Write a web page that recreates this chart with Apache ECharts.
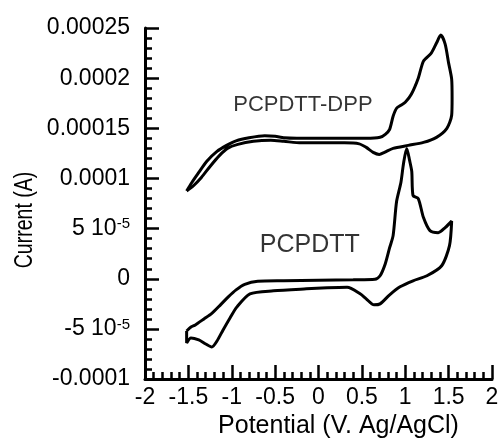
<!DOCTYPE html>
<html>
<head>
<meta charset="utf-8">
<script src="https://cdn.jsdelivr.net/npm/echarts@6/dist/echarts.min.js"></script>
<style>
  html, body { margin: 0; padding: 0; background: #fff; }
  #chart { width: 504px; height: 444px; }
</style>
</head>
<body>
<div id="chart"></div>
<script>
// Cyclic voltammograms, currents given in units of 1e-5 A
const CURRENT_UNIT = 1e-5;

// PCPDTT-DPP loop (anodic sweep then return)
const dppPotential = [
  -1.52, -1.46, -1.38, -1.29, -1.17, -1.06, -0.95, -0.80, -0.62, -0.50,
  -0.40, -0.25, 0.00, 0.30, 0.55, 0.71, 0.77, 0.82, 0.86, 0.90,
  0.95, 1.00, 1.07, 1.15, 1.21, 1.30, 1.36, 1.41, 1.46, 1.50,
  1.535, 1.54, 1.535, 1.48, 1.36, 1.21, 1.035, 0.86, 0.76, 0.70,
  0.63, 0.55, 0.47, 0.30, 0.00, -0.20, -0.40, -0.55, -0.75, -0.93,
  -1.05, -1.14, -1.25, -1.35, -1.45, -1.52
];
const dppCurrent = [
  8.76, 9.6, 10.6, 11.7, 12.7, 13.3, 13.75, 14.05, 14.25, 14.2,
  14.05, 14.0, 14.0, 14.0, 14.0, 14.1, 14.4, 14.9, 16.2, 17.0,
  17.3, 17.6, 18.4, 20.0, 21.7, 22.5, 23.5, 24.3, 23.4, 21.5,
  19.9, 18.0, 16.3, 15.0, 14.1, 13.6, 13.3, 13.0, 12.6, 12.4,
  12.6, 13.1, 13.45, 13.55, 13.55, 13.55, 13.7, 13.8, 13.7, 13.4,
  13.0, 12.3, 11.2, 10.1, 9.2, 8.76
];

// PCPDTT loop (anodic sweep then return)
const pcpPotential = [
  -1.52, -1.47, -1.42, -1.32, -1.23, -1.13, -1.04, -0.95, -0.85, -0.70,
  -0.40, 0.00, 0.40, 0.65, 0.71, 0.77, 0.82, 0.86, 0.90, 0.95,
  0.98, 1.017, 1.05, 1.075, 1.09, 1.15, 1.21, 1.285, 1.38, 1.46,
  1.535, 1.51, 1.42, 1.25, 1.09, 0.94, 0.82, 0.71, 0.64, 0.55,
  0.48, 0.33, 0.10, -0.14, -0.52, -0.79, -0.94, -1.02, -1.10, -1.17,
  -1.23, -1.30, -1.38, -1.47, -1.52, -1.52
];
const pcpCurrent = [
  -5.2, -4.8, -4.6, -4.0, -3.45, -2.6, -1.8, -1.1, -0.55, -0.25,
  -0.2, -0.15, -0.1, -0.05, 0.3, 1.5, 3.1, 4.3, 7.7, 9.6,
  11.5, 13.0, 11.8, 10.7, 8.3, 8.0, 6.1, 4.8, 4.6, 5.1,
  5.75, 3.3, 1.3, 0.3, -0.2, -0.8, -1.6, -2.5, -2.6, -2.0,
  -1.5, -0.85, -0.9, -1.0, -1.2, -1.5, -2.8, -3.9, -5.1, -6.2,
  -6.8, -6.5, -6.1, -5.9, -6.4, -5.2
];

// Curve names written next to each loop: [potential, current (1e-5 A)]
const curveNames = ['PCPDTT-DPP', 'PCPDTT'];
const curveNamePos = [[-0.18, 17.3], [-0.10, 3.4]];
const curveNameSize = [22, 25];

const yTickLabels = ['-0.0001', '-5 10{sup|-5}', '0', '5 10{sup|-5}', '0.0001', '0.00015', '0.0002', '0.00025'];
const xTickLabels = ['-2', '-1.5', '-1', '-0.5', '0', '0.5', '1', '1.5', '2'];
const yAxisTitle = 'Current (A)';
const xAxisTitle = 'Potential (V. Ag/AgCl)';

function pairs(xs, ys) {
  return xs.map((x, i) => [x, ys[i] * CURRENT_UNIT]);
}

const FONT = '"Liberation Sans", Arial, sans-serif';
const chart = echarts.init(document.getElementById('chart'), null, { renderer: 'canvas' });

const lineStyle = { color: '#000', width: 3 };

chart.setOption({
  animation: false,
  backgroundColor: '#fff',
  grid: { left: 145, right: 12, top: 28, bottom: 61, containLabel: false },
  // vertical axis title, drawn a little wider across its lines
  graphic: [{
    type: 'text',
    x: 25, y: 220,
    rotation: Math.PI / 2,
    scaleY: 1.3,
    style: {
      text: yAxisTitle, fontFamily: FONT, fontSize: 19.5, fill: '#000',
      align: 'center', verticalAlign: 'middle'
    }
  }],
  xAxis: {
    type: 'value',
    min: -2, max: 2, interval: 0.5,
    name: xAxisTitle,
    nameLocation: 'middle',
    nameGap: 20,
    nameTextStyle: { fontFamily: FONT, fontSize: 25, color: '#000', padding: [0, 0, 0, 40] },
    axisLine: { onZero: false, lineStyle: { color: '#000', width: 3 } },
    axisTick: { inside: true, length: 14, lineStyle: { color: '#000', width: 2.5 } },
    minorTick: { show: true, splitNumber: 5, length: 7, lineStyle: { color: '#000', width: 2.5 } },
    axisLabel: {
      margin: 7, fontFamily: FONT, fontSize: 23, color: '#000',
      showMinLabel: true, showMaxLabel: true,
      formatter: (v, i) => xTickLabels[i]
    },
    splitLine: { show: false }
  },
  yAxis: {
    type: 'value',
    min: -1e-4, max: 2.5e-4, interval: 5e-5,
    axisLine: { onZero: false, lineStyle: { color: '#000', width: 3 } },
    axisTick: { inside: true, length: 14, lineStyle: { color: '#000', width: 2.5 } },
    minorTick: { show: true, splitNumber: 5, length: 7, lineStyle: { color: '#000', width: 2.5 } },
    axisLabel: {
      margin: 15, fontFamily: FONT, fontSize: 23, color: '#000',
      showMinLabel: true, showMaxLabel: true,
      formatter: (v, i) => yTickLabels[i],
      rich: {
        sup: { fontFamily: FONT, fontSize: 15, color: '#000', verticalAlign: 'top', padding: [0, 0, 9, 0] }
      }
    },
    splitLine: { show: false }
  },
  series: [
    {
      name: 'PCPDTT-DPP', type: 'line', data: pairs(dppPotential, dppCurrent),
      showSymbol: false, smooth: 0.25, lineStyle: lineStyle, z: 3
    },
    {
      name: 'PCPDTT', type: 'line', data: pairs(pcpPotential, pcpCurrent),
      showSymbol: false, smooth: 0.25, lineStyle: lineStyle, z: 3
    },
    {
      type: 'scatter', symbolSize: 0, silent: true,
      data: curveNames.map((n, i) => ({
        name: n,
        value: [curveNamePos[i][0], curveNamePos[i][1] * CURRENT_UNIT],
        label: { fontSize: curveNameSize[i] }
      })),
      label: {
        show: true, position: 'inside', formatter: p => p.name,
        fontFamily: FONT, color: '#000'
      }
    }
  ]
});
</script>
</body>
</html>
